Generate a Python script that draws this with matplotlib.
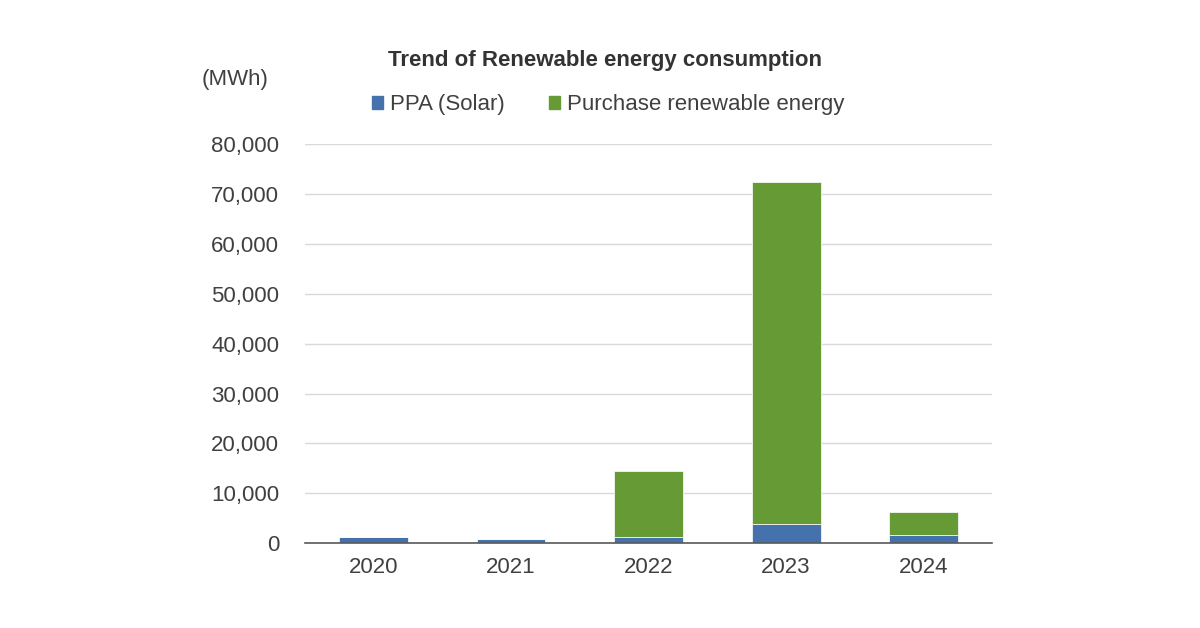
import matplotlib.pyplot as plt
from matplotlib.patches import Patch
from matplotlib.ticker import FuncFormatter

plt.rcParams["font.family"] = ["Liberation Sans", "DejaVu Sans"]

# data (MWh)
years = ["2020", "2021", "2022", "2023", "2024"]
ppa_solar = [1150, 750, 1300, 3800, 1700]
purchase_renewable = [0, 0, 13100, 68500, 4600]

blue = "#4571AD"
green = "#659A35"
text_col = "#404040"

fig = plt.figure(figsize=(12, 6.28), dpi=100)
ax = fig.add_axes([0.254, 0.135, 0.573, 0.6357])

x = range(len(years))
ax.bar(x, ppa_solar, width=0.5, color=blue, edgecolor="white", linewidth=0.5, zorder=3)
ax.bar(x, purchase_renewable, width=0.5, bottom=ppa_solar, color=green,
       edgecolor="white", linewidth=0.5, zorder=3)

ax.set_xlim(-0.5, len(years) - 0.5)
ax.set_ylim(0, 80000)
ax.set_yticks(range(0, 80001, 10000))
ax.yaxis.set_major_formatter(FuncFormatter(lambda v, p: f"{int(v):,}"))
ax.set_xticks(list(x))
ax.set_xticklabels(years)
ax.grid(axis="y", color="#d9d9d9", linewidth=1, zorder=0)
ax.tick_params(axis="both", length=0, labelsize=16, labelcolor=text_col)
ax.tick_params(axis="y", pad=18.5)
ax.tick_params(axis="x", pad=10)
for side in ["top", "right", "left"]:
    ax.spines[side].set_visible(False)
ax.spines["bottom"].set_color("#595959")
ax.spines["bottom"].set_linewidth(1.2)
ax.spines["bottom"].set_zorder(4)

fig.text(0.504, 0.903, "Trend of Renewable energy consumption", ha="center", va="center",
         fontsize=16, fontweight="bold", color="#333333")
fig.text(0.196, 0.874, "(MWh)", ha="center", va="center", fontsize=16, color=text_col)

handles = [Patch(color=blue, label="PPA (Solar)"),
           Patch(color=green, label="Purchase renewable energy")]
fig.legend(handles=handles, loc="center", bbox_to_anchor=(0.507, 0.833), ncol=2,
           frameon=False, fontsize=16, labelcolor=text_col, handlelength=0.5,
           handleheight=0.5, handletextpad=0.3, columnspacing=2.0)

fig.savefig("out.png", dpi=100, facecolor="white")
